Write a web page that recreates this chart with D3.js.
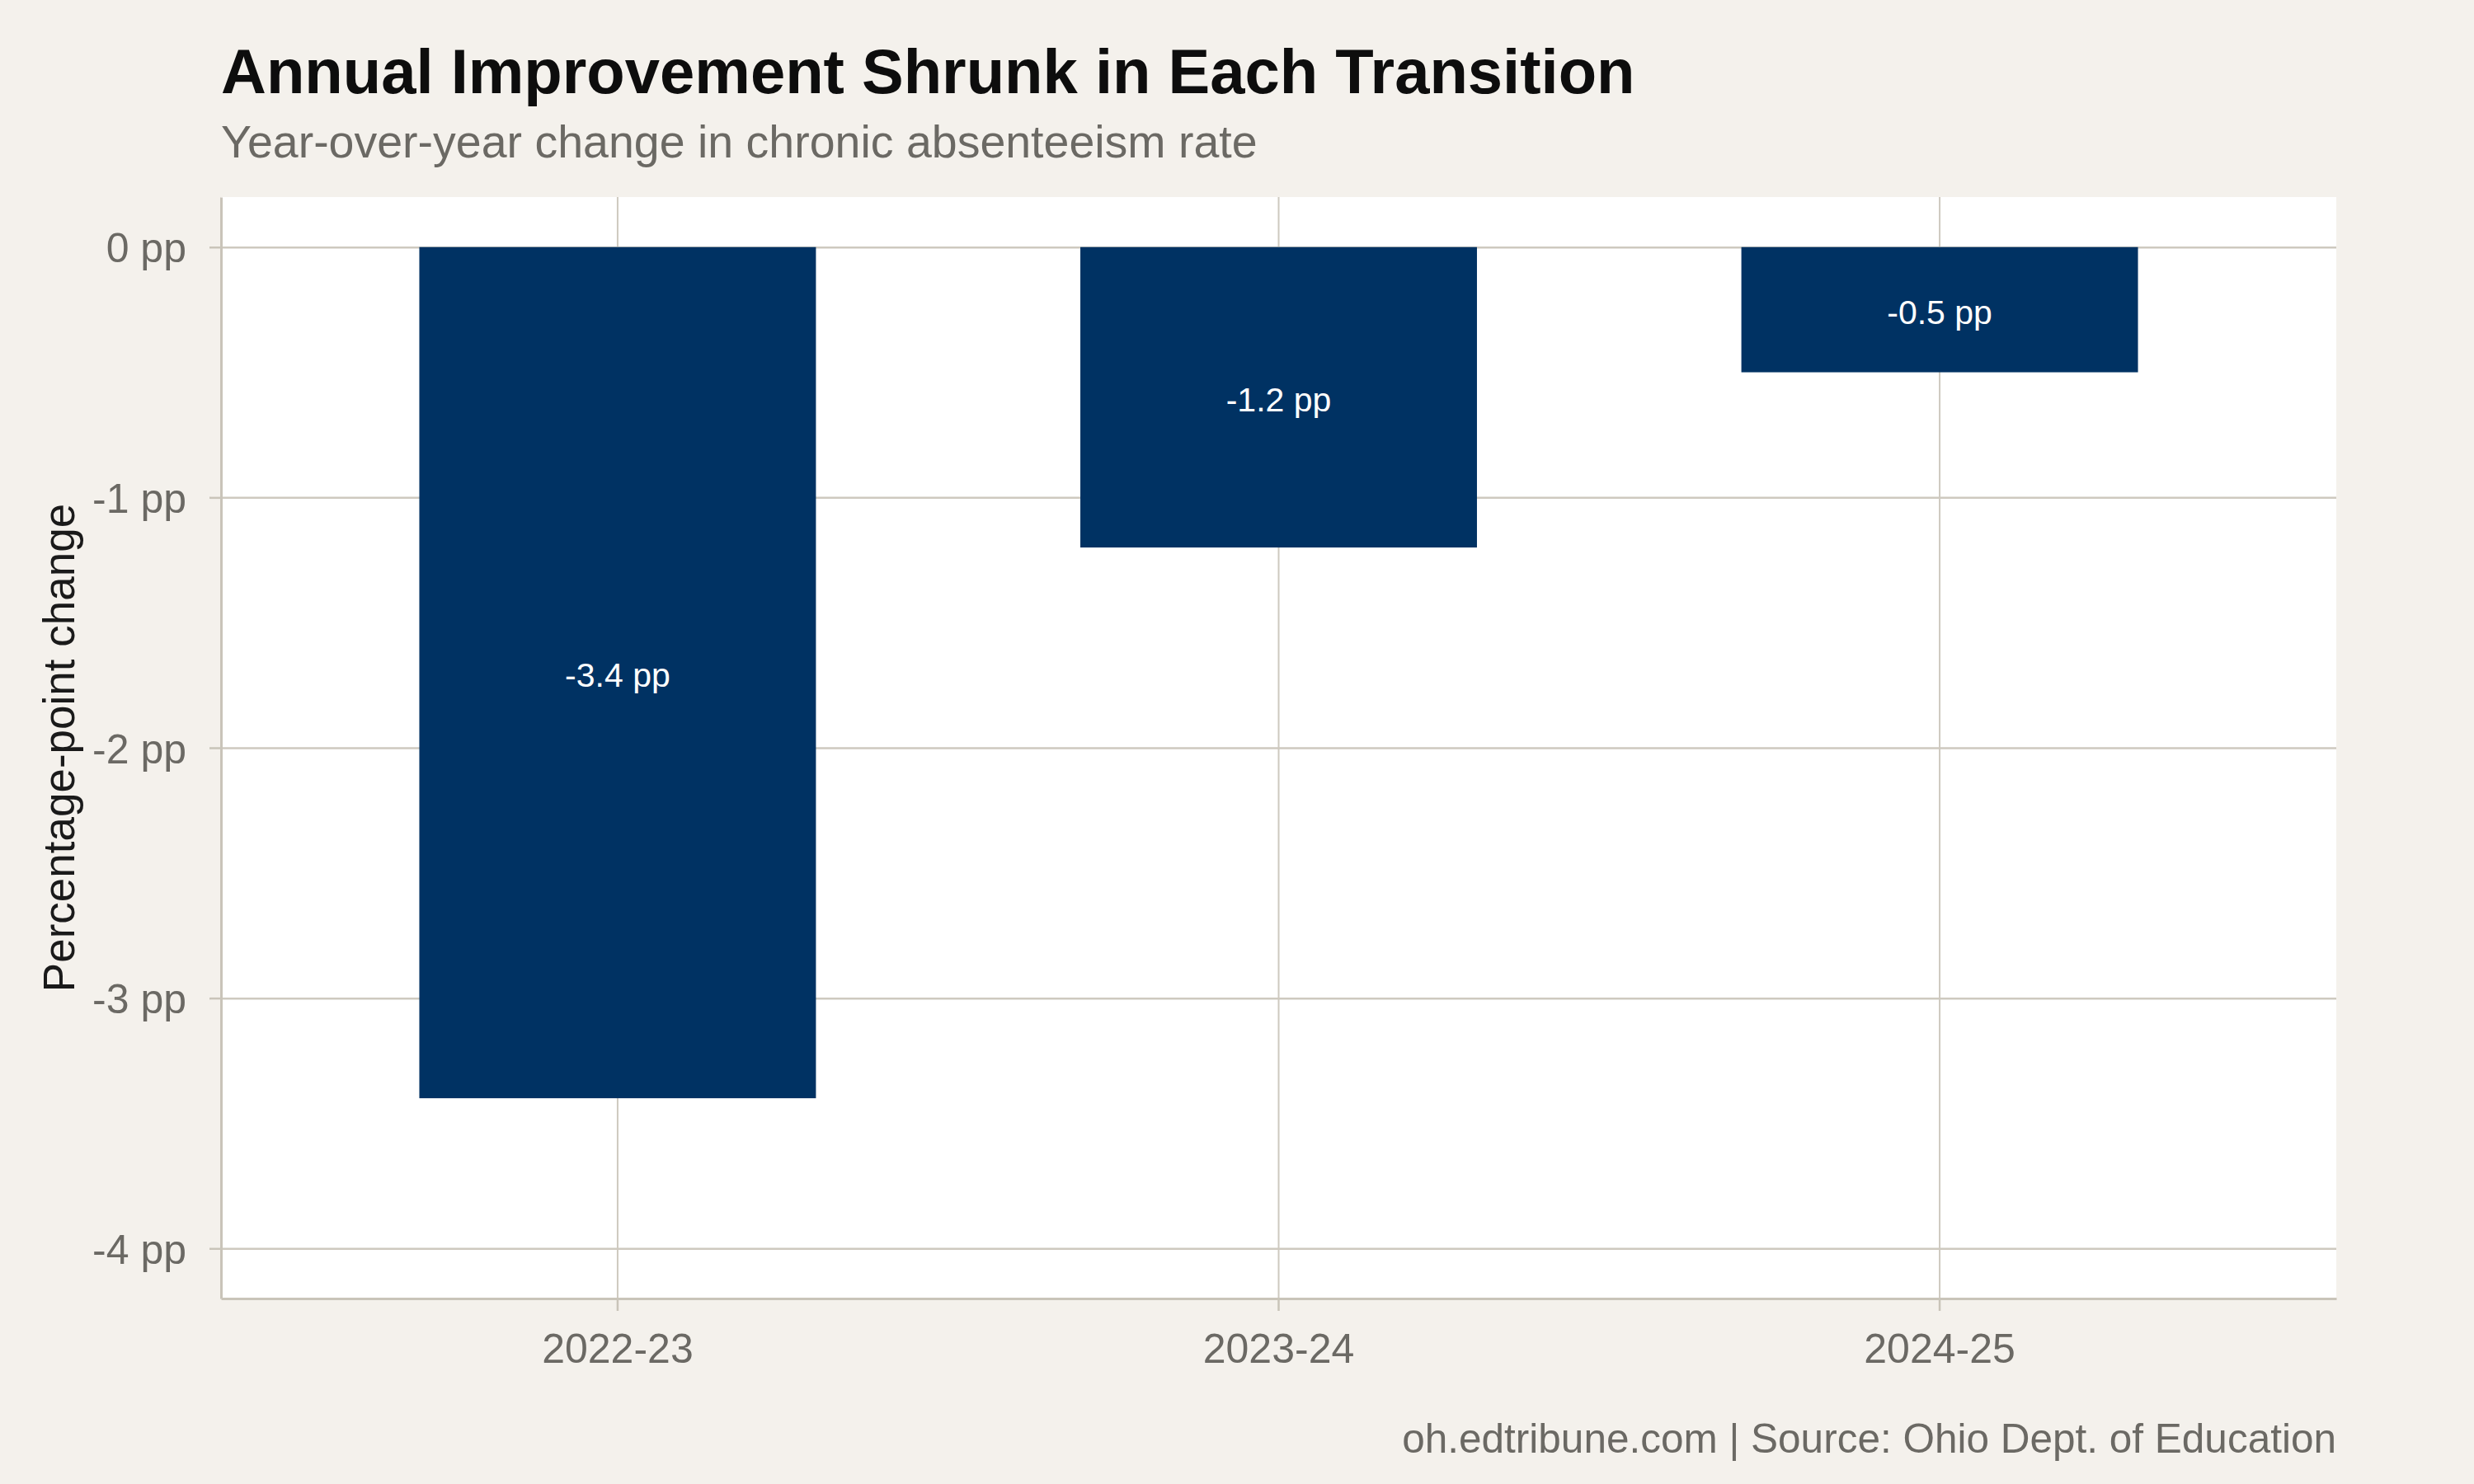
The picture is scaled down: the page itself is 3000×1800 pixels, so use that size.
<!DOCTYPE html>
<html>
<head>
<meta charset="utf-8">
<script src="https://cdn.jsdelivr.net/npm/d3@7"></script>
<style>
  html, body { margin: 0; padding: 0; background: #f4f1ec; }
  svg { display: block; }
  text { font-family: "Liberation Sans", Arial, Helvetica, sans-serif; }
</style>
</head>
<body>
<div id="vis"></div>
<script>
// chart data
const years = ["2022-23", "2023-24", "2024-25"];
const changes = [-3.4, -1.2, -0.5];
const yTicks = [0, -1, -2, -3, -4];

const titleText = "Annual Improvement Shrunk in Each Transition";
const subtitleText = "Year-over-year change in chronic absenteeism rate";
const yTitleText = "Percentage-point change";
const captionText = "oh.edtribune.com | Source: Ohio Dept. of Education";

////////////////////////////////////////
/////////////// Defaults ///////////////
////////////////////////////////////////

const options = {
  width: 3000,
  height: 1800,
  margin: { top: 239, right: 167, bottom: 225, left: 268 },
  background: "#f4f1ec",
  panel: "#ffffff",
  fill: "#003263",
  grid: "#cec9bf",
  axis: "#c9c4b9",
  muted: "#6b6964",
};

const data = years.map((y, i) => ({ year: y, value: changes[i] }));

////////////////////////////////////////
////////////// Helpers /////////////////
////////////////////////////////////////

const width = options.width - options.margin.left - options.margin.right;
const height = options.height - options.margin.top - options.margin.bottom;

const fmt = (d) => `${d === 0 ? 0 : d} pp`;

////////////////////////////////////////
////////////// Scales //////////////////
////////////////////////////////////////

const xScale = d3
  .scaleBand()
  .domain(years)
  .range([0, width])
  .paddingInner(0.4)
  .paddingOuter(0.3);

// limits -4..0 plus 5% expansion on each side
const yScale = d3.scaleLinear().domain([-4.2, 0.2]).range([height, 0]);

////////////////////////////////////////
////////////// DOM Setup ///////////////
////////////////////////////////////////

const svg = d3
  .select("#vis")
  .append("svg")
  .attr("width", options.width)
  .attr("height", options.height);

svg
  .append("rect")
  .attr("width", options.width)
  .attr("height", options.height)
  .attr("fill", options.background);

// titles
svg
  .append("text")
  .attr("x", options.margin.left)
  .attr("y", 113)
  .attr("font-size", 76)
  .attr("font-weight", "bold")
  .attr("fill", "#0d0d0d")
  .text(titleText);

svg
  .append("text")
  .attr("x", options.margin.left)
  .attr("y", 191)
  .attr("font-size", 55.5)
  .attr("fill", options.muted)
  .text(subtitleText);

const g = svg
  .append("g")
  .attr("transform", `translate(${options.margin.left},${options.margin.top})`);

g.append("rect")
  .attr("width", width)
  .attr("height", height)
  .attr("fill", options.panel);

// gridlines
const xGrid = g
  .append("g")
  .attr("transform", `translate(0,${height})`)
  .call(d3.axisBottom(xScale).tickSize(-height).tickFormat(""));
xGrid.select(".domain").remove();
xGrid.selectAll("line").attr("stroke", options.grid).attr("stroke-width", 2);

const yGrid = g
  .append("g")
  .call(d3.axisLeft(yScale).tickValues(yTicks).tickSize(-width).tickFormat(""));
yGrid.select(".domain").remove();
yGrid.selectAll("line").attr("stroke", options.grid).attr("stroke-width", 2.5);

// bars
g.selectAll("rect.bar")
  .data(data)
  .join("rect")
  .attr("class", "bar")
  .attr("x", (d) => xScale(d.year))
  .attr("y", (d) => yScale(Math.max(0, d.value)))
  .attr("width", xScale.bandwidth())
  .attr("height", (d) => Math.abs(yScale(d.value) - yScale(0)))
  .attr("fill", options.fill);

// value labels in the middle of each bar
g.selectAll("text.value")
  .data(data)
  .join("text")
  .attr("class", "value")
  .attr("x", (d) => xScale(d.year) + xScale.bandwidth() / 2)
  .attr("y", (d) => yScale(d.value / 2))
  .attr("dy", "0.42em")
  .attr("text-anchor", "middle")
  .attr("font-size", 41)
  .attr("fill", "#ffffff")
  .text((d) => fmt(d.value));

// axes
const xAxis = g
  .append("g")
  .attr("transform", `translate(0,${height})`)
  .call(d3.axisBottom(xScale).tickSize(15).tickSizeOuter(0).tickPadding(27));
xAxis.select(".domain").attr("stroke", options.axis).attr("stroke-width", 3);
xAxis.selectAll("line").attr("stroke", options.axis).attr("stroke-width", 2.5);
xAxis
  .selectAll("text")
  .attr("font-size", 50)
  .attr("fill", options.muted);

const yAxis = g
  .append("g")
  .call(
    d3
      .axisLeft(yScale)
      .tickValues(yTicks)
      .tickSize(14)
      .tickSizeOuter(0)
      .tickPadding(28)
      .tickFormat(fmt)
  );
yAxis.select(".domain").attr("stroke", options.axis).attr("stroke-width", 3);
yAxis.selectAll("line").attr("stroke", options.axis).attr("stroke-width", 2.5);
yAxis
  .selectAll("text")
  .attr("font-size", 50)
  .attr("dy", "0.36em")
  .attr("fill", options.muted);

// y axis title
svg
  .append("text")
  .attr("transform", `translate(90,${options.margin.top + height / 2}) rotate(-90)`)
  .attr("text-anchor", "middle")
  .attr("font-size", 53)
  .attr("fill", "#1a1a1a")
  .text(yTitleText);

// caption
svg
  .append("text")
  .attr("x", options.margin.left + width)
  .attr("y", 1762)
  .attr("text-anchor", "end")
  .attr("font-size", 49.5)
  .attr("fill", options.muted)
  .text(captionText);
</script>
</body>
</html>
